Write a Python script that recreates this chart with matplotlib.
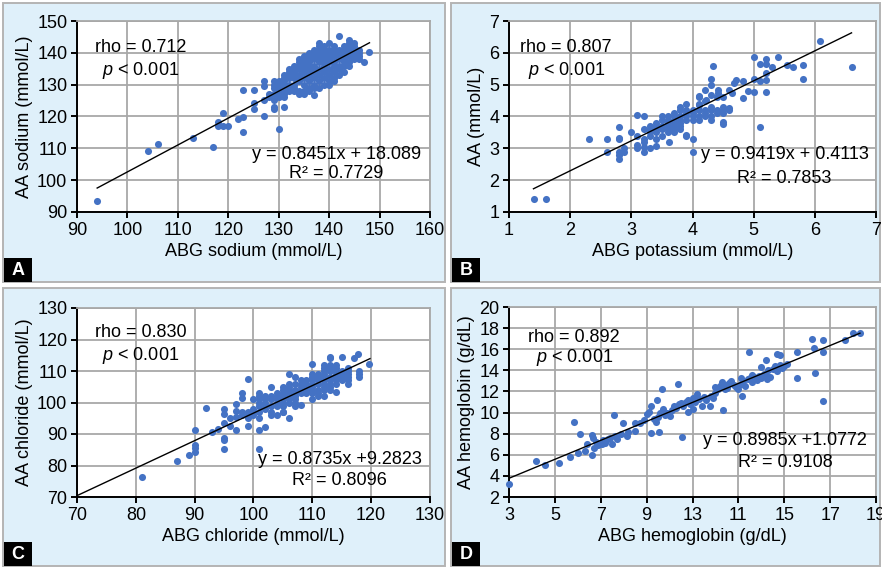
import matplotlib.pyplot as plt
from matplotlib.patches import Rectangle
import numpy as np

plt.rcParams['font.family'] = ['Liberation Sans', 'DejaVu Sans']
plt.rcParams['mathtext.fontset'] = 'custom'
plt.rcParams['mathtext.it'] = 'Liberation Sans:italic'
plt.rcParams['mathtext.rm'] = 'Liberation Sans'

# ---- data (ABG value, AA value) ----
sodium_sparse = [(94, 93.4), (104, 109.2), (106, 111.3), (113, 113.1), (117, 110.3), (118, 118.4),
                 (118, 117), (119, 121.2), (119, 117), (120, 117), (122, 119.2), (123, 119.8),
                 (123, 115.1), (123, 128.2), (125, 128.2), (125, 124.3), (125, 122.4), (127, 120.2),
                 (127, 131), (127, 129.5), (127, 125.3), (129, 125.3), (129, 123.1), (129, 122.5),
                 (130, 116), (131, 123.1), (137, 126.8), (142, 145.4), (138, 143.2), (148, 140.4),
                 (147, 137.1)]
sodium_dense = {128: [126, 127], 129: [131, 130, 129, 127], 130: [131, 130, 129, 128, 126],
                131: [133, 132, 131, 130, 128, 127, 126], 132: [135, 134, 133, 132, 130, 129, 128],
                133: [136, 135, 134, 133, 132, 130, 129, 128],
                134: [138, 137, 136, 135, 133, 132, 131, 128, 127],
                135: [139, 138, 137, 136, 135, 134, 132, 130, 128, 127],
                136: [140, 139, 138, 137, 136, 135, 133, 131, 129, 128],
                137: [141, 140, 139, 138, 136, 135, 134, 132, 130, 129],
                138: [142, 141, 140, 139, 138, 137, 135, 133, 131, 129],
                139: [142, 141, 140, 139, 138, 137, 136, 134, 132, 130],
                140: [143, 141, 140, 139, 138, 137, 135, 133, 131, 130],
                141: [142, 141, 140, 139, 137, 136, 134, 132, 131],
                142: [141, 140, 139, 138, 136, 135, 133], 143: [142, 141, 140, 138, 137, 136, 134],
                144: [144, 143, 142, 141, 140, 139, 137, 136], 145: [143, 142, 141, 140, 139, 138],
                146: [141, 140, 139, 138]}

potassium_sparse = [(1.41, 1.4), (1.6, 1.4), (2.3, 3.28), (2.6, 3.28), (2.6, 2.89), (2.8, 3.66),
                    (2.8, 3.34), (2.8, 3.28), (2.8, 2.89), (2.8, 2.79), (2.8, 2.68), (2.88, 2.89),
                    (2.88, 3.0), (3.0, 3.52), (3.1, 4.05), (3.2, 4.0), (3.2, 3.05), (3.2, 2.89),
                    (3.31, 3.0), (3.41, 3.08), (4.0, 3.28), (4.0, 2.87), (3.89, 3.42), (3.62, 3.2),
                    (5.0, 5.86), (5.0, 5.18), (5.0, 4.78), (4.33, 5.6), (4.3, 5.18), (4.3, 4.99),
                    (5.1, 3.68), (6.08, 6.38), (6.6, 5.57), (5.8, 5.62), (5.8, 5.18), (5.4, 5.86),
                    (5.55, 5.62), (5.65, 5.57), (5.3, 5.57), (5.2, 5.8), (5.2, 5.65), (5.2, 5.38),
                    (5.2, 5.15), (5.2, 4.78), (5.1, 5.65), (5.1, 5.12), (4.82, 5.1), (4.82, 4.57),
                    (4.68, 5.05), (4.6, 4.83), (4.6, 4.26), (4.6, 4.2), (4.71, 5.14), (4.41, 4.83),
                    (4.41, 4.73), (4.5, 4.2), (4.5, 3.83), (4.5, 3.78), (4.1, 4.64), (4.21, 4.84),
                    (4.3, 4.68), (4.22, 4.52), (4.1, 4.36), (4.9, 4.8), (4.65, 4.75)]
potassium_dense = {3.1: [3.4, 3.0, 3.1], 3.2: [3.6, 3.3, 3.2], 3.3: [3.7, 3.5, 3.4, 3.6],
                   3.4: [3.8, 3.6, 3.5, 3.3, 3.7], 3.5: [3.9, 3.7, 3.6, 4.0, 3.4],
                   3.6: [4.0, 3.9, 3.8, 3.6, 3.5, 3.7], 3.7: [4.1, 4.0, 3.9, 3.8, 3.7, 3.6, 3.5],
                   3.8: [4.3, 4.2, 4.0, 3.9, 3.8, 3.7, 3.6], 3.9: [4.4, 4.2, 4.1, 4.0, 3.9, 3.4],
                   4.0: [4.2, 4.1, 4.0, 3.9], 4.1: [4.6, 4.2, 4.0, 3.9, 4.4],
                   4.2: [4.2, 4.1, 4.0, 4.5], 4.3: [4.3, 4.2, 4.0, 3.9], 4.4: [4.2, 4.1, 4.6],
                   4.5: [4.6, 4.3, 4.1]}

chloride_sparse = [(81, 76.4), (87, 81.5), (89, 83.2), (90, 91.3), (90, 86.5), (90, 85.4), (90, 84.4),
                   (92, 98.3), (93, 90.7), (94, 91.5), (95, 97.8), (95, 96.5), (95, 93.6), (95, 88.8),
                   (95, 88.2), (95, 85.2), (96, 92.5), (97, 99.5), (97, 97.3), (97, 95.5), (97, 91.4),
                   (98, 103), (98, 101.5), (99, 107.4), (99, 92.4), (101, 85.2), (101, 91.4),
                   (102, 92.3), (106, 95.1), (105, 96.9), (110, 112.2), (113, 114.3), (115, 114.3),
                   (117.7, 115.4), (119.7, 112.2), (117, 114), (114, 103.3), (108, 99.3), (110, 101.2),
                   (98, 97), (98, 96), (96, 95)]
chloride_dense = {99: [97, 96, 95], 100: [98, 97, 96, 101], 101: [103, 102, 101, 100, 99, 97, 95],
                  102: [102, 101, 100, 99, 98], 103: [105, 102, 101, 99, 97, 96],
                  104: [103, 102, 101, 100, 99, 96], 105: [105, 104, 103, 102, 101, 100, 99, 97],
                  106: [109, 106, 105, 104, 103, 102, 101, 100],
                  107: [108, 106, 104, 103, 102, 101, 100, 99], 108: [107, 106, 105, 104, 103],
                  109: [107, 106, 105, 104, 103], 110: [109, 108, 107, 106, 105, 104, 103],
                  111: [109, 108, 107, 106, 104, 103, 102],
                  112: [112, 111, 110, 109, 108, 107, 106, 105, 104, 102],
                  113: [114, 112, 111, 110, 108, 107, 106, 105, 104],
                  114: [112, 111, 110, 109, 108, 107, 106], 115: [110, 109, 108, 107],
                  116: [111, 110, 109, 108, 107, 106], 118: [110, 109, 108]}

hemoglobin = [(3.0, 3.2), (4.16, 5.4), (4.57, 5.0), (5.19, 5.25), (5.67, 5.75), (5.83, 9.1),
              (5.99, 6.15), (6.1, 8.0), (6.3, 6.4), (6.4, 7.0), (6.6, 5.95), (6.63, 7.9), (6.66, 7.6),
              (6.7, 6.6), (6.9, 6.9), (7.05, 7.0), (7.2, 7.1), (7.3, 7.5), (7.4, 7.6), (7.58, 9.75),
              (7.48, 7.0), (7.7, 7.5), (7.98, 9.0), (8.15, 7.8), (8.5, 9.05), (8.5, 8.3),
              (8.9, 9.3), (9.0, 9.9), (9.1, 10.1), (9.2, 10.65), (9.19, 8.05), (9.56, 8.2),
              (9.44, 11.2), (9.66, 12.2), (10.35, 12.75), (10.53, 7.7), (11.4, 10.6), (12.35, 10.2),
              (13.14, 11.6), (13.48, 15.7), (15.55, 13.3), (15.55, 15.7), (16.2, 16.95),
              (16.3, 16.1), (16.35, 13.75), (16.7, 16.9), (16.7, 15.7), (16.7, 11.05),
              (17.65, 16.85), (17.98, 17.55), (18.3, 17.55), (14.8, 15.5), (14.7, 15.55),
              (14.26, 13.2), (14.2, 15.0), (11.76, 10.6), (6.8, 7.2), (7.1, 7.4), (7.6, 7.8),
              (7.9, 8.0), (8.2, 8.2), (8.7, 9.0), (9.3, 9.4), (9.4, 9.1), (9.5, 9.6), (9.6, 10.0),
              (9.7, 10.3), (9.8, 9.8), (9.9, 10.0), (10.0, 9.7), (10.1, 10.2), (10.2, 10.6),
              (10.3, 10.4), (10.4, 10.8), (10.5, 10.9), (10.6, 10.6), (10.7, 11.0), (10.8, 11.2),
              (10.9, 10.8), (11.0, 11.4), (11.1, 11.0), (11.2, 11.8), (11.0, 10.3), (10.8, 10.1),
              (11.3, 11.3), (11.5, 11.5), (11.6, 11.2), (11.8, 11.6), (12.0, 11.9), (12.1, 12.2),
              (12.2, 12.5), (12.3, 12.9), (12.4, 12.6), (12.5, 12.3), (12.6, 12.8), (12.7, 13.0),
              (12.8, 12.6), (12.9, 12.4), (13.0, 12.2), (13.1, 12.7), (13.2, 13.0), (13.3, 12.5),
              (13.4, 13.2), (13.5, 13.3), (13.6, 12.9), (13.7, 13.4), (13.8, 13.1), (13.9, 13.5),
              (14.0, 13.3), (14.1, 13.7), (14.2, 13.6), (14.3, 14.0), (14.4, 13.4), (14.5, 14.1),
              (14.6, 14.4), (14.7, 13.9), (14.8, 14.5), (14.9, 14.2), (15.0, 14.4), (15.1, 14.6),
              (12.0, 12.4), (12.4, 12.2), (11.9, 11.4), (13.1, 13.3), (13.6, 13.6), (14.0, 14.3)]


def expand(dense):
    return [(x, y) for x, ys in dense.items() for y in ys]


panels = [
    dict(pts=sodium_sparse + expand(sodium_dense), xlim=(90, 160), ylim=(90, 150),
         xticks=range(90, 161, 10), yticks=range(90, 151, 10), xticklabels=None,
         xlabel='ABG sodium (mmol/L)', ylabel='AA sodium (mmol/L)',
         fit=(0.8451, 18.089), fitx=(94, 148), rho='rho = 0.712',
         eq='y = 0.8451x + 18.089', r2='R² = 0.7729', letter='A',
         ax=(77, 21, 430, 212), panel=(3, 3, 445, 282),
         tpos=(0.051, 0.859, 0.071, 0.743, 0.735, 0.30, 0.20)),
    dict(pts=potassium_sparse + expand(potassium_dense), xlim=(1, 7), ylim=(1, 7),
         xticks=range(1, 8), yticks=range(1, 8), xticklabels=None,
         xlabel='ABG potassium (mmol/L)', ylabel='AA (mmol/L)',
         fit=(0.9419, 0.4113), fitx=(1.4, 6.6), rho='rho = 0.807',
         eq='y = 0.9419x + 0.4113', r2='R² = 0.7853', letter='B',
         ax=(509, 21, 876, 212), panel=(451, 3, 880, 282),
         tpos=(0.030, 0.859, 0.052, 0.743, 0.751, 0.30, 0.175)),
    dict(pts=chloride_sparse + expand(chloride_dense), xlim=(70, 130), ylim=(70, 130),
         xticks=range(70, 131, 10), yticks=range(70, 131, 10), xticklabels=None,
         xlabel='ABG chloride (mmol/L)', ylabel='AA chloride (mmol/L)',
         fit=(0.8735, 9.2823), fitx=(70, 119.8), rho='rho = 0.830',
         eq='y = 0.8735x +9.2823', r2='R² = 0.8096', letter='C',
         ax=(77, 308, 430, 497), panel=(3, 288, 445, 566),
         tpos=(0.051, 0.873, 0.071, 0.751, 0.744, 0.196, 0.085)),
    dict(pts=hemoglobin, xlim=(3, 19), ylim=(2, 20),
         xticks=range(3, 20, 2), yticks=range(2, 21, 2),
         xticklabels=['3', '5', '7', '9', '13', '11', '15', '17', '19'],
         xlabel='ABG hemoglobin (g/dL)', ylabel='AA hemoglobin (g/dL)',
         fit=(0.8985, 1.0772), fitx=(3, 18.3), rho='rho = 0.892',
         eq='y = 0.8985x +1.0772', r2='R² = 0.9108', letter='D',
         ax=(509, 307, 876, 497), panel=(451, 288, 880, 566),
         tpos=(0.052, 0.842, 0.074, 0.732, 0.752, 0.295, 0.179)),
]

W, H = 882, 568
FS = 13


def frac(x0, y0, x1, y1):
    return [x0 / W, 1 - y1 / H, (x1 - x0) / W, (y1 - y0) / H]


fig = plt.figure(figsize=(W / 100, H / 100), dpi=100)

for p in panels:
    # light blue panel background, kept behind the axes
    l, b, w, h = frac(*p['panel'])
    fig.patches.append(Rectangle((l, b), w, h, transform=fig.transFigure, facecolor='#dff0fa',
                                 edgecolor='#b4b4b4', linewidth=1.4, zorder=-2))
    # black letter tag in the lower-left corner
    px0, py1 = p['panel'][0], p['panel'][3]
    l, b, w, h = frac(px0 + 1, py1 - 24, px0 + 29, py1)
    fig.patches.append(Rectangle((l, b), w, h, transform=fig.transFigure, facecolor='black',
                                 edgecolor='none', zorder=-1))
    fig.text(l + w / 2, b + h / 2 - 0.001, p['letter'], color='white', fontsize=13,
             fontweight='bold', ha='center', va='center')

    ax = fig.add_axes(frac(*p['ax']))
    ax.set_facecolor('white')
    pts = np.array(p['pts'])
    ax.scatter(pts[:, 0], pts[:, 1], s=26, color='#4472c4', linewidths=0, zorder=3, clip_on=False)
    a, c = p['fit']
    fx = np.array(p['fitx'])
    ax.plot(fx, a * fx + c, color='black', linewidth=1.0, zorder=4)

    ax.set_xlim(*p['xlim'])
    ax.set_ylim(*p['ylim'])
    ax.set_xticks(list(p['xticks']))
    ax.set_yticks(list(p['yticks']))
    if p['xticklabels']:
        ax.set_xticklabels(p['xticklabels'])
    ax.grid(True, color='#a8a8a8', linewidth=1.3, zorder=1)
    ax.set_axisbelow(True)
    for s in ['top', 'right']:
        ax.spines[s].set_color('#a8a8a8')
        ax.spines[s].set_linewidth(1.3)
    for s in ['left', 'bottom']:
        ax.spines[s].set_color('black')
        ax.spines[s].set_linewidth(1.4)
    ax.tick_params(direction='out', length=4.5, width=1.4, labelsize=FS, pad=2.5)
    ax.set_xlabel(p['xlabel'], fontsize=FS, labelpad=3)
    ax.set_ylabel(p['ylabel'], fontsize=FS, labelpad=3)

    rx, ry, px, py, ex, ey, r2y = p['tpos']
    ax.text(rx, ry, p['rho'], transform=ax.transAxes, fontsize=FS, va='center', ha='left', zorder=5)
    ax.text(px, py, r'$p$ < 0.001', transform=ax.transAxes, fontsize=FS, va='center', ha='left', zorder=5)
    ax.text(ex, ey, p['eq'], transform=ax.transAxes, fontsize=FS, va='center', ha='center', zorder=5)
    ax.text(ex, r2y, p['r2'], transform=ax.transAxes, fontsize=FS, va='center', ha='center', zorder=5)

fig.savefig('out.png', dpi=100, facecolor='white')
